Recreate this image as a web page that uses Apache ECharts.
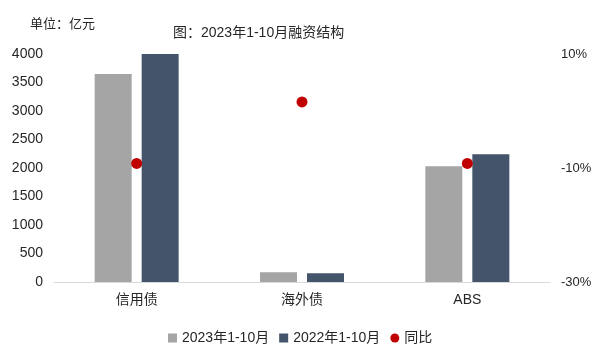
<!DOCTYPE html>
<html><head><meta charset="utf-8">
<script src="https://cdn.jsdelivr.net/npm/echarts@6/dist/echarts.min.js"></script>
<style>html,body{margin:0;padding:0;background:#fff}#c{width:604px;height:360px}</style>
</head><body><div id="c"></div>
<script>
var categories = ['信用债', '海外债', 'ABS'];
var seriesNames = ['2023年1-10月', '2022年1-10月', '同比'];
var v2023 = [3649, 170, 2032];
var v2022 = [4000, 153, 2243];
var yoy = [-9.2, 1.6, -9.2];
var leftTicks = [0, 4000, 500];
var rightTicks = [-30, 10, 20];

var FONT = '"Liberation Sans", "Noto Sans CJK SC", sans-serif';
var chart = echarts.init(document.getElementById('c'));
chart.setOption({
  animation: false,
  textStyle: { fontFamily: FONT },
  title: {
    text: '图：2023年1-10月融资结构',
    left: 168, top: 21,
    textStyle: { fontSize: 14, fontWeight: 'normal', color: '#262626', fontFamily: FONT }
  },
  graphic: [{
    type: 'text', left: 30, top: 18,
    style: { text: '单位：亿元', font: '13px ' + FONT, fill: '#262626' }
  }],
  legend: {
    left: 163, top: 326, itemWidth: 9, itemHeight: 9, itemGap: 10,
    textStyle: { fontSize: 14, color: '#262626', fontFamily: FONT },
    data: [
      { name: seriesNames[0], icon: 'rect' },
      { name: seriesNames[1], icon: 'rect' },
      { name: seriesNames[2], icon: 'circle' }
    ]
  },
  grid: { left: 54, right: 54, top: 54, bottom: 78 },
  xAxis: {
    type: 'category', data: categories,
    axisLine: { lineStyle: { color: '#d9d9d9' } },
    axisTick: { show: false },
    axisLabel: { color: '#262626', fontSize: 14, margin: 11, fontFamily: FONT }
  },
  yAxis: [{
    type: 'value', min: leftTicks[0], max: leftTicks[1], interval: leftTicks[2],
    splitLine: { show: false }, axisLine: { show: false }, axisTick: { show: false },
    axisLabel: { color: '#262626', fontSize: 14, margin: 11, fontFamily: FONT,
      formatter: function (v) { return String(v); } }
  }, {
    type: 'value', min: rightTicks[0], max: rightTicks[1], interval: rightTicks[2],
    splitLine: { show: false }, axisLine: { show: false }, axisTick: { show: false },
    axisLabel: { color: '#262626', fontSize: 13, margin: 11, formatter: '{value}%', fontFamily: FONT }
  }],
  series: [{
    name: seriesNames[0], type: 'bar', data: v2023, barWidth: 37, barGap: '27%',
    itemStyle: { color: '#A5A5A5' }
  }, {
    name: seriesNames[1], type: 'bar', data: v2022, barWidth: 37,
    itemStyle: { color: '#44546A' }
  }, {
    name: seriesNames[2], type: 'scatter', yAxisIndex: 1, data: yoy, symbolSize: 11,
    itemStyle: { color: '#C00000', opacity: 1 }
  }]
});
</script></body></html>
